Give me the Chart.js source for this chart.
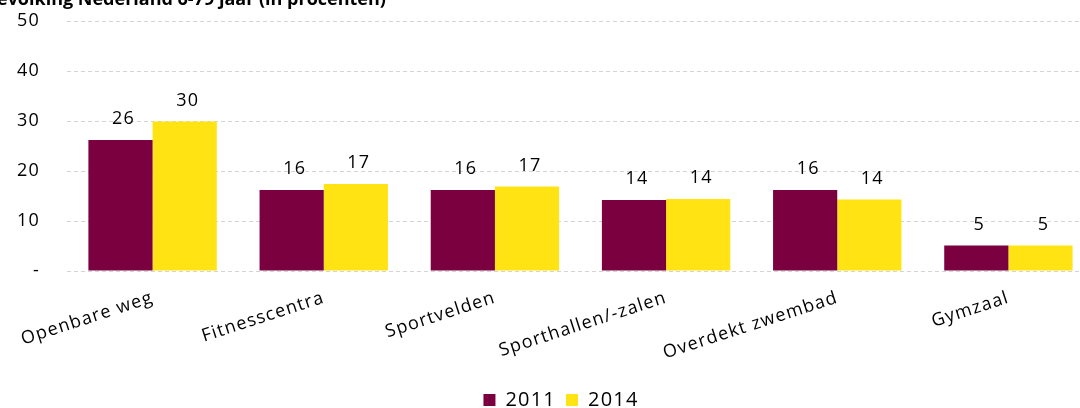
<!DOCTYPE html>
<html>
<head>
<meta charset="utf-8">
<script src="https://cdn.jsdelivr.net/npm/chart.js@4.4.1/dist/chart.umd.min.js"></script>
<style>
html, body { margin: 0; padding: 0; background: #fff; overflow: hidden; }
#wrap { position: absolute; left: 0; top: 0; width: 1094px; height: 420px; }
</style>
</head>
<body>
<div id="wrap"><canvas id="chart_sportLocaties"></canvas></div>
<script>
var categories = ['Openbare weg', 'Fitnesscentra', 'Sportvelden', 'Sporthallen/-zalen', 'Overdekt zwembad', 'Gymzaal'];
var values2011 = [26.2, 16.2, 16.2, 14.2, 16.2, 5.1];
var values2014 = [29.9, 17.4, 16.9, 14.4, 14.3, 5.1];
var yTickLabels = ['-', '10', '20', '30', '40', '50'];
var titleText = 'bevolking Nederland 6-79 jaar (in procenten)';

Chart.defaults.font.family = "'Open Sans', sans-serif";
Chart.defaults.font.size = 18;
Chart.defaults.color = '#000';

var spacing = '1.2px';

var chart_sportLocaties = new Chart(document.getElementById('chart_sportLocaties'), {
    type: 'bar',
    data: {
        labels: categories,
        datasets: [
            {
                label: '2011',
                backgroundColor: '#7B003F',
                data: values2011
            },
            {
                label: '2014',
                backgroundColor: '#FFE312',
                data: values2014
            }
        ]
    },
    options: {
        animation: false,
        responsive: true,
        maintainAspectRatio: false,
        datasets: {
            bar: {
                categoryPercentage: 0.75,
                barPercentage: 1.0
            }
        },
        layout: {
            padding: { top: 21, left: 0, right: 0, bottom: 0 }
        },
        plugins: {
            tooltip: { enabled: false },
            title: { display: false },
            legend: {
                position: 'bottom',
                labels: {
                    boxWidth: 12,
                    boxHeight: 12,
                    padding: 10,
                    font: { size: 20 }
                }
            }
        },
        scales: {
            x: {
                grid: { display: false },
                border: { display: false },
                ticks: {
                    maxRotation: 18,
                    minRotation: 18,
                    padding: 8
                },
                afterFit: function(scale) {
                    scale.height += 8;
                }
            },
            y: {
                min: 0,
                max: 50,
                grid: {
                    color: '#d4d4d4',
                    lineWidth: 1,
                    drawTicks: false
                },
                border: { display: false, dash: [4, 3] },
                ticks: {
                    stepSize: 10,
                    padding: 27,
                    callback: function(value, index) {
                        return yTickLabels[index];
                    }
                },
                afterFit: function(scale) {
                    scale.width = 67;
                    scale.paddingTop = 0;
                    scale.paddingBottom = 0;
                }
            }
        }
    },
    plugins: [{
        id: 'letterSpacing',
        beforeUpdate: (chart) => { chart.ctx.letterSpacing = spacing; },
        afterLayout: (chart) => {
            // legend sits a bit right of centre in the original
            chart.legend.left += 28;
        },
        beforeDraw: (chart) => {
            chart.ctx.letterSpacing = spacing;
            const ctx = chart.ctx;
            ctx.save();
            ctx.fillStyle = 'white';
            ctx.fillRect(0, 0, chart.width, chart.height);
            ctx.restore();
        }
    }, {
        id: 'barValues',
        afterDatasetsDraw: (chart) => {
            const ctx = chart.ctx;
            ctx.save();
            ctx.font = "18px 'Open Sans', sans-serif";
            ctx.fillStyle = '#000';
            ctx.textAlign = 'center';
            ctx.textBaseline = 'alphabetic';
            chart.data.datasets.forEach((ds, i) => {
                chart.getDatasetMeta(i).data.forEach((bar, j) => {
                    ctx.fillText(String(Math.round(ds.data[j])), bar.x + 3, bar.y - 16);
                });
            });
            ctx.restore();
        }
    }, {
        id: 'cutTitle',
        afterDraw: (chart) => {
            const ctx = chart.ctx;
            ctx.save();
            ctx.letterSpacing = '0px';
            ctx.font = "bold 18px 'Open Sans', sans-serif";
            ctx.fillStyle = '#000';
            ctx.textAlign = 'left';
            ctx.textBaseline = 'alphabetic';
            const cut = ctx.measureText('b').width + 3;
            ctx.fillText(titleText, -cut, 5);
            ctx.restore();
        }
    }]
});
</script>
</body>
</html>
